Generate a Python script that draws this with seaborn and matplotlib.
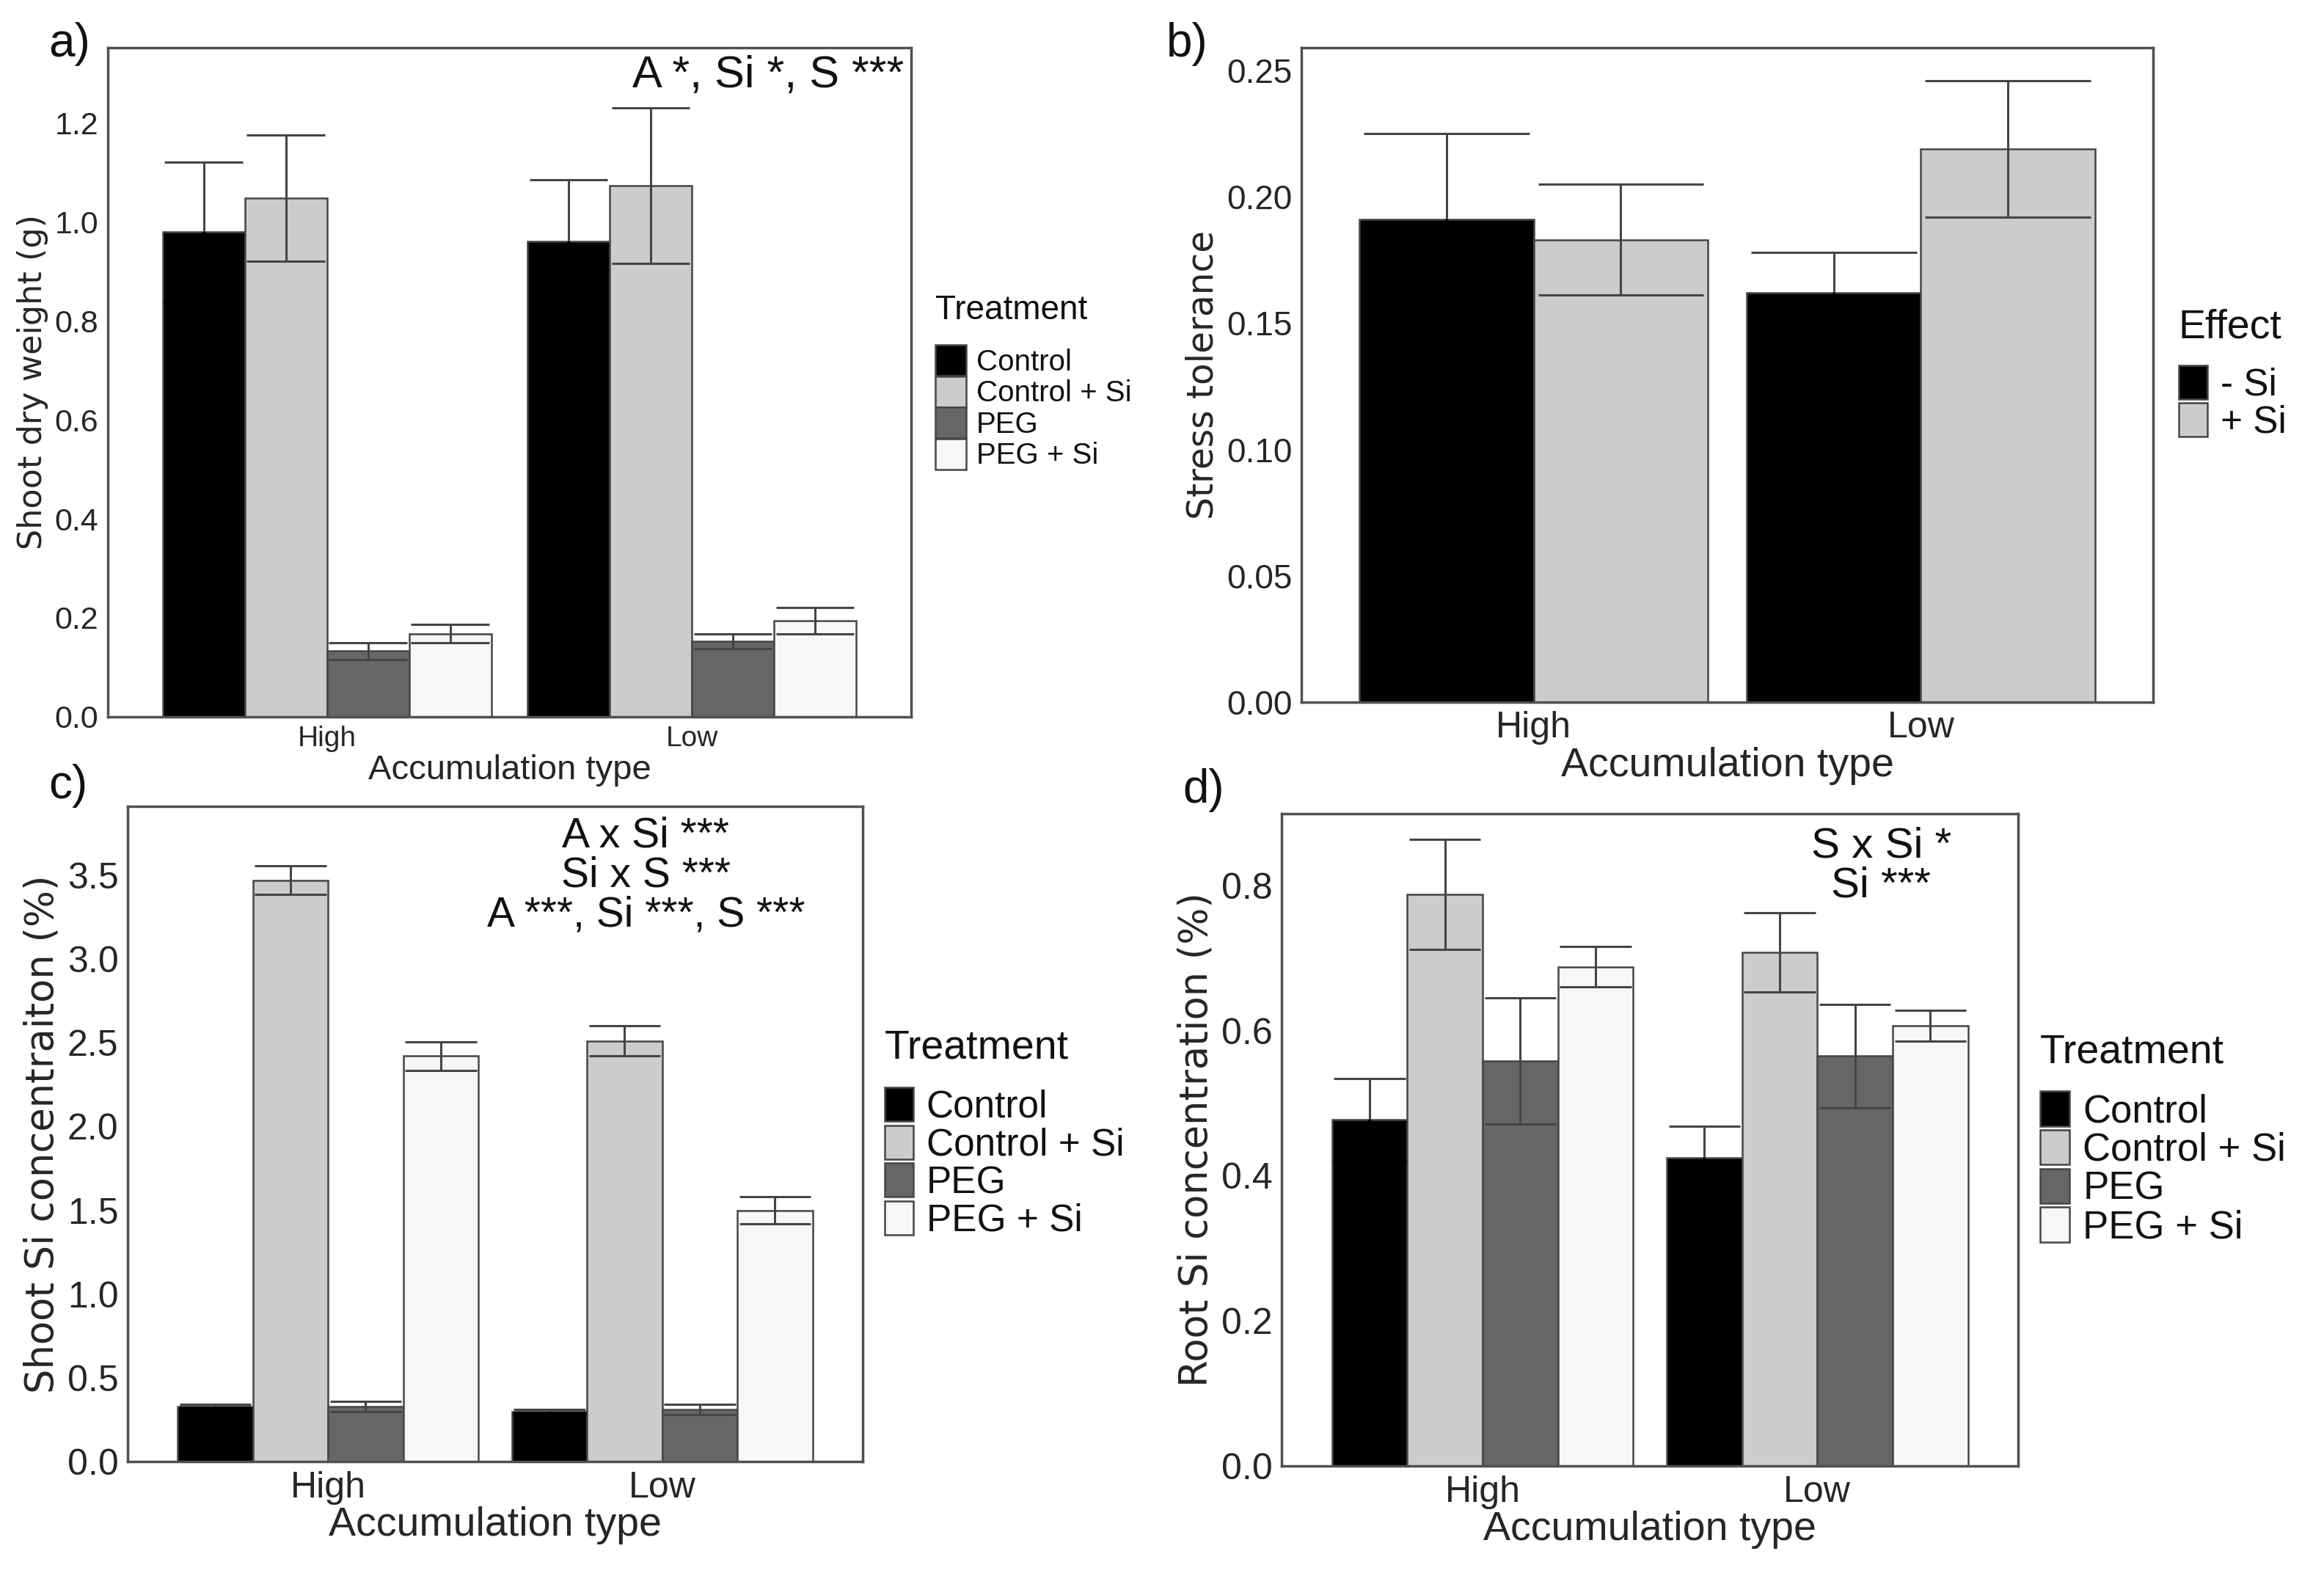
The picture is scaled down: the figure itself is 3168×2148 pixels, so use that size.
import numpy as np
import pandas as pd
import seaborn as sns
import matplotlib.pyplot as plt
from matplotlib.patches import Patch

# categories
groups = ["High", "Low"]
treatments = ["Control", "Control + Si", "PEG", "PEG + Si"]
effects = ["- Si", "+ Si"]

# a) shoot dry weight (g), mean and se per treatment
shoot_dw_high = [0.979, 1.048, 0.133, 0.168]
shoot_dw_low = [0.960, 1.073, 0.153, 0.194]
shoot_dw_se_high = [0.142, 0.128, 0.017, 0.018]
shoot_dw_se_low = [0.125, 0.157, 0.015, 0.027]

# b) stress tolerance, per effect (High, Low)
stress_minus_si = [0.191, 0.162]
stress_plus_si = [0.183, 0.219]
stress_se_minus_si = [0.034, 0.016]
stress_se_plus_si = [0.022, 0.027]

# c) shoot Si concentration (%)
shoot_si_high = [0.33, 3.47, 0.33, 2.42]
shoot_si_low = [0.30, 2.51, 0.31, 1.50]
shoot_si_se_high = [0.01, 0.085, 0.03, 0.085]
shoot_si_se_low = [0.01, 0.09, 0.03, 0.08]

# d) root Si concentration (%)
root_si_high = [0.477, 0.788, 0.558, 0.688]
root_si_low = [0.425, 0.708, 0.565, 0.607]
root_si_se_high = [0.057, 0.076, 0.087, 0.028]
root_si_se_low = [0.043, 0.055, 0.071, 0.021]

treat_pal = {"Control": "#000000", "Control + Si": "#cccccc", "PEG": "#666666", "PEG + Si": "#f7f7f7"}
effect_pal = {"- Si": "#000000", "+ Si": "#cccccc"}
EDGE = "#454545"
ERR = "#454545"


def treat_table(high, low, se_high, se_low):
    rows = []
    for t, m, s in zip(treatments, high, se_high):
        rows.append(("High", t, m, s))
    for t, m, s in zip(treatments, low, se_low):
        rows.append(("Low", t, m, s))
    return pd.DataFrame(rows, columns=["accumulation", "group", "mean", "se"])


def effect_table(minus, plus, se_minus, se_plus):
    rows = []
    for g, m, s in zip(groups, minus, se_minus):
        rows.append((g, "- Si", m, s))
    for g, m, s in zip(groups, plus, se_plus):
        rows.append((g, "+ Si", m, s))
    return pd.DataFrame(rows, columns=["accumulation", "group", "mean", "se"])


sns.set_style("white")
plt.rcParams["font.family"] = ["Liberation Sans", "DejaVu Sans"]
plt.rcParams["text.color"] = "#111111"


def panel(ax, df, hue_order, pal, ylim, yticks, ylabel, fs):
    sns.barplot(data=df, x="accumulation", y="mean", hue="group", order=groups,
                hue_order=hue_order, palette=pal, width=0.9, errorbar=None,
                saturation=1, edgecolor=EDGE, linewidth=1.8, legend=False, ax=ax)
    # error bars (mean +- se) on top of the bars
    for i, cont in enumerate(ax.containers):
        lvl = hue_order[i]
        for bar in cont:
            xc = bar.get_x() + bar.get_width() / 2
            cat = groups[int(round(xc))]
            row = df[(df["accumulation"] == cat) & (df["group"] == lvl)].iloc[0]
            m, s = row["mean"], row["se"]
            hw = bar.get_width() * 0.475
            ax.vlines(xc, m - s, m + s, color=ERR, lw=2.2, zorder=5)
            ax.hlines([m - s, m + s], xc - hw, xc + hw, color=ERR, lw=2.2, zorder=5)
            if pal[lvl] == "#000000":
                # the part inside a black bar does not show
                ax.vlines(xc, m - s - 0.002 * ylim[1], m, color="black", lw=3, zorder=6)
                ax.hlines(m - s, xc - hw - 0.002, xc + hw + 0.002, color="black", lw=3.5, zorder=6)
    ax.set_xlim(-0.6, 1.6)
    ax.set_ylim(*ylim)
    ax.set_yticks(yticks)
    ax.set_xlabel("Accumulation type", fontsize=fs["xlabel"], labelpad=2)
    ax.set_ylabel(ylabel, fontsize=fs["ylabel"], fontfamily="DejaVu Sans", labelpad=6)
    ax.tick_params(axis="y", labelsize=fs["ytick"], length=6, width=1.8, color=EDGE, pad=3)
    ax.tick_params(axis="x", labelsize=fs["xtick"], length=6, width=1.8, color=EDGE, pad=3)
    for sp in ax.spines.values():
        sp.set_visible(True)
        sp.set_color("#505050")
        sp.set_linewidth(2.5)
    handles = [Patch(facecolor=pal[h], edgecolor=EDGE, lw=1.8, label=h) for h in hue_order]
    leg = ax.legend(handles=handles, title=fs["title"], loc="center left",
                    bbox_to_anchor=(1.03, 0.5), frameon=False, borderaxespad=0, borderpad=0,
                    fontsize=fs["leg"], title_fontsize=fs["legtitle"], labelspacing=0,
                    handlelength=fs["hl"], handleheight=fs["hh"], handletextpad=0.35)
    leg._legend_box.align = "left"
    leg._legend_box.sep = fs["sep"]


fig = plt.figure(figsize=(31.68, 21.48), dpi=100)
ax_a = fig.add_axes([0.0464, 0.5452, 0.3456, 0.4246])
ax_b = fig.add_axes([0.5600, 0.5545, 0.3665, 0.4153])
ax_c = fig.add_axes([0.0549, 0.0726, 0.3163, 0.4157])
ax_d = fig.add_axes([0.5515, 0.0698, 0.3169, 0.4139])

panel(ax_a, treat_table(shoot_dw_high, shoot_dw_low, shoot_dw_se_high, shoot_dw_se_low),
      treatments, treat_pal, (0, 1.352), np.arange(0, 1.21, 0.2), "Shoot dry weight (g)",
      dict(xlabel=34, ylabel=32, ytick=31, xtick=28, title="Treatment", leg=29, legtitle=33,
           hl=1.05, hh=1.22, sep=18))
ax_a.yaxis.set_major_formatter(plt.FormatStrFormatter("%.1f"))
ax_a.text(0.991, 0.958, "A *, Si *, S ***", transform=ax_a.transAxes, ha="right", va="center", fontsize=44)

panel(ax_b, effect_table(stress_minus_si, stress_plus_si, stress_se_minus_si, stress_se_plus_si),
      effects, effect_pal, (0, 0.259), np.arange(0, 0.251, 0.05), "Stress tolerance",
      dict(xlabel=40, ylabel=35, ytick=33, xtick=36, title="Effect", leg=37, legtitle=40,
           hl=0.75, hh=1.0, sep=18))
ax_b.yaxis.set_major_formatter(plt.FormatStrFormatter("%.2f"))

panel(ax_c, treat_table(shoot_si_high, shoot_si_low, shoot_si_se_high, shoot_si_se_low),
      treatments, treat_pal, (0, 3.91), np.arange(0, 3.51, 0.5), "Shoot Si concentraiton (%)",
      dict(xlabel=40, ylabel=38, ytick=36, xtick=36, title="Treatment", leg=37, legtitle=40,
           hl=0.75, hh=1.0, sep=20))
ax_c.yaxis.set_major_formatter(plt.FormatStrFormatter("%.1f"))
ax_c.text(0.705, 0.985, "A x Si ***\nSi x S ***\nA ***, Si ***, S ***", transform=ax_c.transAxes,
          ha="center", va="top", multialignment="center", fontsize=41, linespacing=1.0)

panel(ax_d, treat_table(root_si_high, root_si_low, root_si_se_high, root_si_se_low),
      treatments, treat_pal, (0, 0.899), np.arange(0, 0.81, 0.2), "Root Si concentration (%)",
      dict(xlabel=40, ylabel=38, ytick=36, xtick=36, title="Treatment", leg=38, legtitle=40,
           hl=0.75, hh=1.0, sep=19))
ax_d.yaxis.set_major_formatter(plt.FormatStrFormatter("%.1f"))
ax_d.text(0.814, 0.98, "S x Si *\nSi ***", transform=ax_d.transAxes,
          ha="center", va="top", multialignment="center", fontsize=42, linespacing=1.0)

for lab, x, y in [("a)", 0.021, 0.972), ("b)", 0.502, 0.972), ("c)", 0.021, 0.5014), ("d)", 0.509, 0.4986)]:
    fig.text(x, y, lab, fontsize=46, ha="left", va="center")

fig.savefig("out.png", dpi=100, facecolor="white")
